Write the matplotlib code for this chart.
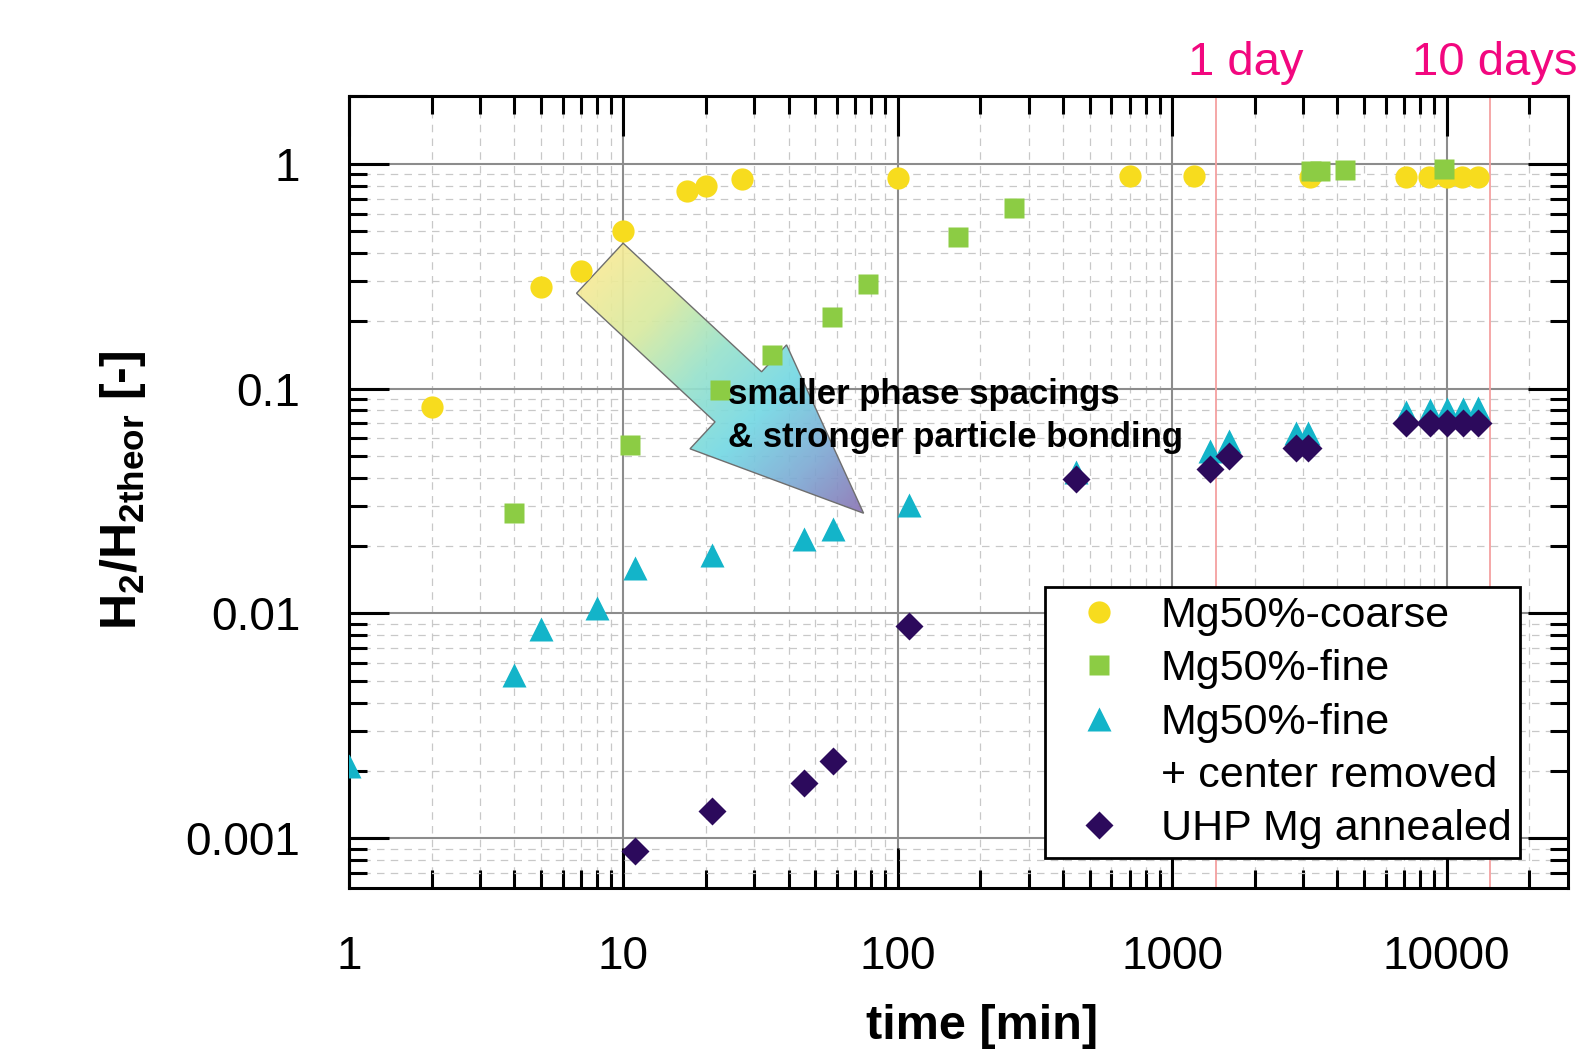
import numpy as np
import matplotlib.pyplot as plt
import matplotlib.ticker as mticker
from matplotlib.colors import LinearSegmentedColormap
from matplotlib.patches import Polygon
from matplotlib.lines import Line2D
from matplotlib.transforms import blended_transform_factory

plt.rcParams['font.family'] = ['Liberation Sans', 'DejaVu Sans']
plt.rcParams['mathtext.fontset'] = 'custom'
plt.rcParams['mathtext.rm'] = 'Liberation Sans'
plt.rcParams['mathtext.bf'] = 'Liberation Sans:bold'

# --- data (time in min, H2/H2theor) ---
coarse_t = [2, 5, 7, 10, 17, 20, 27, 100, 700, 1200, 3180, 7100, 8650, 10000, 11400, 13000]
coarse_h = [0.083, 0.283, 0.334, 0.50, 0.756, 0.796, 0.856, 0.865, 0.88, 0.88,
            0.877, 0.877, 0.877, 0.877, 0.877, 0.877]

fine_t = [4, 10.6, 22.5, 34.8, 57.4, 77.8, 166, 264, 3200, 3460, 4250, 9750]
fine_h = [0.0281, 0.0562, 0.0983, 0.141, 0.209, 0.292, 0.474, 0.634, 0.93, 0.93, 0.94, 0.95]

removed_t = [1, 4, 5, 8, 11, 21, 45.6, 58, 110, 447, 1367, 1604, 2823, 3113,
             7120, 8710, 10020, 11430, 13000]
removed_h = [0.0021, 0.00535, 0.0085, 0.0106, 0.016, 0.0182, 0.0214, 0.0238, 0.0302,
             0.0425, 0.0528, 0.0585, 0.0637, 0.0637, 0.079, 0.080, 0.081, 0.081, 0.082]

uhp_t = [11, 21, 45.6, 58, 110, 447, 1367, 1604, 2823, 3113, 7120, 8710, 10020, 11430, 13000]
uhp_h = [0.00088, 0.00132, 0.00177, 0.0022, 0.0088, 0.0395, 0.0438, 0.0502, 0.0543,
         0.0543, 0.0702, 0.0702, 0.0702, 0.0702, 0.0702]

day_lines = [1440, 14400]
day_labels = ['1 day', '10 days']
day_label_x = [1850, 15000]

x_ticks = [1, 10, 100, 1000, 10000]
y_ticks = [0.001, 0.01, 0.1, 1]

fig = plt.figure(figsize=(15.86, 10.53), dpi=100)
fig.subplots_adjust(left=0.2201, right=0.9887, top=0.9088, bottom=0.1567)
ax = fig.add_subplot(111)
ax.set_xscale('log')
ax.set_yscale('log')
ax.set_xlim(1, 27700)
ax.set_ylim(0.000601, 2.0)

# grid
ax.set_axisbelow(True)
ax.grid(which='major', color='#8c8c8c', lw=1.5, ls='-')
ax.grid(which='minor', color='#c8c8c8', lw=0.9, ls=(0, (6, 5)))

# day markers
trans = blended_transform_factory(ax.transData, ax.transAxes)
for xv, lab, lx in zip(day_lines, day_labels, day_label_x):
    ax.axvline(xv, color='#f4a0a0', lw=1.3, zorder=1.5)
    ax.text(lx, 1.026, lab, transform=trans, ha='center', va='baseline',
            color='#f2077f', fontsize=34, clip_on=False)

# series
h1, = ax.plot(coarse_t, coarse_h, 'o', color='#f7dc1e', ms=16, mec='none', zorder=3,
              label='Mg50%-coarse')
h2, = ax.plot(fine_t, fine_h, 's', color='#8ccc44', ms=14, mec='none', zorder=3,
              label='Mg50%-fine')
h3, = ax.plot(removed_t, removed_h, '^', color='#13b4c9', ms=17, mec='none', zorder=3,
              label='Mg50%-fine')
h4, = ax.plot(uhp_t, uhp_h, 'D', color='#2c0a5c', ms=14, mec='none', zorder=3.1,
              label='UHP Mg annealed')

# gradient arrow
tail = ax.transData.transform((8.2, 0.343))
tip = ax.transData.transform((75, 0.0279))
vec = tip - tail
L = np.hypot(*vec)
d = vec / L
n = np.array([-d[1], d[0]])
w1, w2, neck = 0.095 * L, 0.197 * L, 0.525 * L
verts = np.array([
    tail + n * w1,
    tail + d * neck + n * w1,
    tail + d * neck + n * w2,
    tip,
    tail + d * neck - n * w2,
    tail + d * neck - n * w1,
    tail - n * w1,
])
verts_ax = ax.transAxes.inverted().transform(verts)

cmap = LinearSegmentedColormap.from_list(
    'arrow', ['#f5eb98', '#d8eaa0', '#98e2cc', '#74d8e4', '#7eaad4', '#8a72b3'])
nx, ny = 600, 400
u, v = np.meshgrid((np.arange(nx) + 0.5) / nx, (np.arange(ny) + 0.5) / ny)
pix = ax.transAxes.transform(np.column_stack([u.ravel(), v.ravel()]))
t = ((pix - tail) @ d / L).reshape(ny, nx)
t = np.clip(t, 0, 1)
img = ax.imshow(t, cmap=cmap, extent=(0, 1, 0, 1), transform=ax.transAxes,
                origin='lower', aspect='auto', zorder=2, alpha=0.92,
                interpolation='bilinear')
arrow = Polygon(verts_ax, closed=True, transform=ax.transAxes, facecolor='none',
                edgecolor='#6e6e6e', lw=1.0, zorder=2.1)
ax.add_patch(arrow)
img.set_clip_path(arrow)
ax.set_xlim(1, 27700)
ax.set_ylim(0.000601, 2.0)

ax.text(24.1, 0.0756, 'smaller phase spacings\n& stronger particle bonding',
        fontsize=25, fontweight='bold', ha='left', va='center', linespacing=1.36,
        zorder=4)

# axes styling
ax.xaxis.set_major_locator(mticker.FixedLocator(x_ticks))
ax.yaxis.set_major_locator(mticker.FixedLocator(y_ticks))
ax.xaxis.set_minor_locator(mticker.LogLocator(base=10, subs=np.arange(2, 10), numticks=20))
ax.yaxis.set_minor_locator(mticker.LogLocator(base=10, subs=np.arange(2, 10), numticks=20))
fmt = mticker.FuncFormatter(lambda val, pos: f'{val:g}')
ax.xaxis.set_major_formatter(fmt)
ax.yaxis.set_major_formatter(fmt)
ax.xaxis.set_minor_formatter(mticker.NullFormatter())
ax.yaxis.set_minor_formatter(mticker.NullFormatter())

ax.tick_params(which='both', direction='in', top=True, right=True, width=2.2, colors='black')
ax.tick_params(which='major', length=29, labelsize=33)
ax.tick_params(which='minor', length=13)
ax.tick_params(axis='x', which='major', pad=34)
ax.tick_params(axis='y', which='major', pad=35)
for sp in ax.spines.values():
    sp.set_linewidth(2.2)
    sp.set_color('black')

ax.set_xlabel('time [min]', fontsize=35, fontweight='bold')
ax.xaxis.set_label_coords(0.519, -0.146)
ax.set_ylabel(r'$\mathbf{H_2/H_{2theor}}$ [-]', fontsize=36, fontweight='bold')
ax.yaxis.set_label_coords(-0.165, 0.502)

blank = Line2D([], [], linestyle='none', marker='')
leg = ax.legend([h1, h2, h3, blank, h4],
                ['Mg50%-coarse', 'Mg50%-fine', 'Mg50%-fine', '+ center removed',
                 'UHP Mg annealed'],
                loc='lower right', bbox_to_anchor=(0.9606, 0.0379), borderaxespad=0,
                fontsize=31, frameon=True, fancybox=False, framealpha=1,
                edgecolor='black', borderpad=0.2, handlelength=2.1,
                handletextpad=0.38, labelspacing=0.31, numpoints=1)
leg.get_frame().set_linewidth(2.0)
leg.set_zorder(5)

fig.savefig('out.png', dpi=100)
